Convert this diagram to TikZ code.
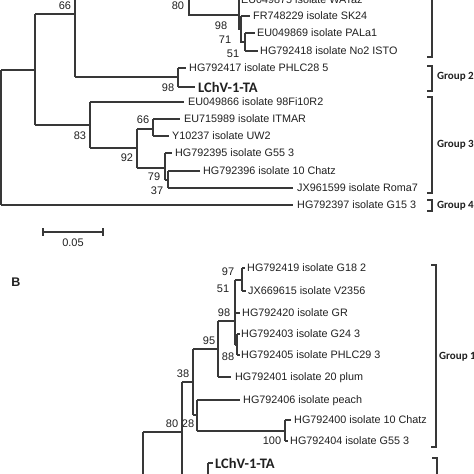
\documentclass[tikz,border=0pt]{standalone}
\usepackage{fontspec}
\setmainfont{Liberation Sans}
\newfontfamily\calib{Carlito}
\definecolor{ln}{HTML}{383838}
\definecolor{tx}{HTML}{202020}
\tikzset{
  br/.style={draw=ln, line width=1.2pt},
  leaf/.style={anchor=base west, inner sep=0pt, text=tx, font=\fontsize{10.8}{12}\selectfont},
  boot/.style={anchor=center, inner sep=0pt, text=tx, font=\fontsize{11}{12}\selectfont},
  lchv/.style={anchor=base west, inner sep=0pt, text=tx, font=\calib\bfseries\fontsize{14.5}{16}\selectfont},
  grp/.style={anchor=west, inner sep=0pt, text=tx, font=\calib\bfseries\fontsize{11}{12}\selectfont},
  brk/.style={draw=ln, line width=1.1pt},
}
\begin{document}
\begin{tikzpicture}[x=1pt,y=-1pt]
\useasboundingbox (0,0) rectangle (474,474);
\fill[white] (0,0) rectangle (474,474);
\clip (0,0) rectangle (474,474);
% ================= Panel A =================
% root
\draw[br] (1,70) -- (1,205);
\draw[br] (1,70) -- (35,70);
\draw[br] (1,205) -- (293,205);
\draw[br] (35,14) -- (35,125);
\draw[br] (35,14) -- (75,14);
\draw[br] (35,125) -- (90,125);
% node 66 (upper)
\draw[br] (75,-49) -- (75,77);
\draw[br] (75,77) -- (178,77);
\node[boot] (bA66) at (65,6) {66};
% node 80
\draw[br] (189,-20) -- (189,15) -- (239,15);
\node[boot] (bA80) at (178,6) {80};
% node 98 / 71 / 51
\draw[br] (239,-1) -- (239,29) -- (241,29);
\draw[br] (239,-1) -- (241,-1);
\draw[br] (241,16) -- (241,42) -- (245,42);
\draw[br] (241,16) -- (250,16);
\draw[br] (245,33) -- (245,51);
\draw[br] (245,33) -- (255,33);
\draw[br] (245,51) -- (258,51);
\node[boot] (bA98a) at (221,26) {98};
\node[boot] (bA71) at (225,40) {71};
\node[boot] (bA51) at (233,54) {51};
\node[leaf] (a1) at (241,3.8) {EU049875 isolate WATaz};
\node[leaf] (a2) at (253,19.8) {FR748229 isolate SK24};
\node[leaf] (a3) at (257,36.8) {EU049869 isolate PALa1};
\node[leaf] (a4) at (260,54.8) {HG792418 isolate No2 ISTO};
% group 2
\draw[br] (178,68) -- (178,87);
\draw[br] (178,68) -- (186,68);
\draw[br] (178,87) -- (195,87);
\node[boot] (bA98b) at (168,88) {98};
\node[leaf] (a5) at (189,71.8) {HG792417 isolate PHLC28 5};
\node[lchv] (a6) at (198,92.2) {LChV-1-TA};
% group 3
\draw[br] (90,102) -- (90,148);
\draw[br] (90,102) -- (184,102);
\node[boot] (bA83) at (80,136) {83};
\node[leaf] (a7) at (188,105.8) {EU049866 isolate 98Fi10R2};
\draw[br] (90,148) -- (137,148);
\draw[br] (137,129) -- (137,168);
\node[boot] (bA92) at (127,158) {92};
\draw[br] (137,129) -- (153,129);
\draw[br] (153,119) -- (153,136);
\node[boot] (bA66b) at (143,120) {66};
\draw[br] (153,119) -- (180,119);
\draw[br] (153,136) -- (169,136);
\node[leaf] (a8) at (184,122.8) {EU715989 isolate ITMAR};
\node[leaf] (a9) at (172,139.8) {Y10237 isolate UW2};
\draw[br] (137,168) -- (165,168);
\draw[br] (165,153) -- (165,180);
\node[boot] (bA79) at (154,177) {79};
\draw[br] (165,153) -- (172,153);
\node[leaf] (a10) at (175,156.8) {HG792395 isolate G55 3};
\draw[br] (165,180) -- (168,180);
\draw[br] (168,171) -- (168,188);
\node[boot] (bA37) at (157,191) {37};
\draw[br] (168,171) -- (200,171);
\draw[br] (168,188) -- (293,188);
\node[leaf] (a11) at (203,174.8) {HG792396 isolate 10 Chatz};
\node[leaf] (a12) at (297,191.8) {JX961599 isolate Roma7};
\node[leaf] (a13) at (297,208.8) {HG792397 isolate G15 3};
% brackets A
\draw[brk] (432,-10) -- (432,57) -- (427,57);
\draw[brk] (427,66) -- (432,66) -- (432,91) -- (427,91);
\node[grp] (gA2) at (437,77) {Group 2};
\draw[brk] (427,97) -- (432,97) -- (432,193) -- (427,193);
\node[grp] (gA3) at (437,145) {Group 3};
\draw[brk] (427,200) -- (432,200) -- (432,211) -- (427,211);
\node[grp] (gA4) at (437,206) {Group 4};
% scale bar
\draw[br] (43,232) -- (103,232);
\draw[br] (43,228) -- (43,236);
\draw[br] (103,228) -- (103,236);
\node[boot] (scale) at (73,243) {0.05};
% ================= Panel B =================
\node[anchor=center, inner sep=0pt, text=tx, font=\bfseries\fontsize{12.5}{14}\selectfont] (B) at (16,282) {B};
\draw[br] (242,268) -- (242,291);
\draw[br] (242,268) -- (245,268);
\draw[br] (242,291) -- (246,291);
\node[boot] (bB97) at (228,272) {97};
\node[leaf] (b1) at (247,271.8) {HG792419 isolate G18 2};
\node[leaf] (b2) at (248,294.8) {JX669615 isolate V2356};
\draw[br] (235,280) -- (242,280);
\draw[br] (235,280) -- (235,345);
\node[boot] (bB51) at (223,289) {51};
\draw[br] (235,313) -- (240,313);
\node[leaf] (b3) at (242,316.8) {HG792420 isolate GR};
\node[boot] (bB98) at (224,313) {98};
\draw[br] (235,345) -- (237,345);
\draw[br] (237,334) -- (237,355);
\draw[br] (237,334) -- (240,334);
\draw[br] (237,355) -- (240,355);
\node[boot] (bB88) at (228,357) {88};
\node[leaf] (b4) at (241,337.8) {HG792403 isolate G24 3};
\node[leaf] (b5) at (241,358.8) {HG792405 isolate PHLC29 3};
\draw[br] (218,321) -- (235,321);
\draw[br] (218,321) -- (218,377);
\draw[br] (218,377) -- (231,377);
\node[boot] (bB95) at (209,341) {95};
\node[leaf] (b6) at (235,380.8) {HG792401 isolate 20 plum};
\draw[br] (193,349) -- (218,349);
\draw[br] (193,349) -- (193,415);
\node[boot] (bB38) at (183,374) {38};
\draw[br] (193,415) -- (197,415);
\draw[br] (197,400) -- (197,431);
\draw[br] (197,400) -- (240,400);
\node[leaf] (b7) at (243,403.8) {HG792406 isolate peach};
\node[boot] (bB28) at (188,424) {28};
\draw[br] (197,431) -- (285,431);
\draw[br] (285,420) -- (285,441);
\draw[br] (285,420) -- (291,420);
\draw[br] (285,441) -- (288,441);
\node[boot] (bB100) at (272,441) {100};
\node[leaf] (b8) at (294,423.8) {HG792400 isolate 10 Chatz};
\node[leaf] (b9) at (290,444.8) {HG792404 isolate G55 3};
\draw[br] (182,382) -- (193,382);
\draw[br] (182,382) -- (182,482);
\node[boot] (bB80) at (172,424) {80};
\draw[br] (143,432) -- (182,432);
\draw[br] (143,432) -- (143,500);
\draw[br] (182,482) -- (208,482);
\draw[br] (208,463) -- (208,490);
\draw[br] (208,463) -- (213,463);
\node[lchv] (b10) at (215,468.2) {LChV-1-TA};
% brackets B
\draw[brk] (431,265) -- (436,265) -- (436,447) -- (431,447);
\node[grp] (gB1) at (439,357) {Group 1};
\draw[brk] (432,458) -- (437,458) -- (437,490);
\end{tikzpicture}
\end{document}
